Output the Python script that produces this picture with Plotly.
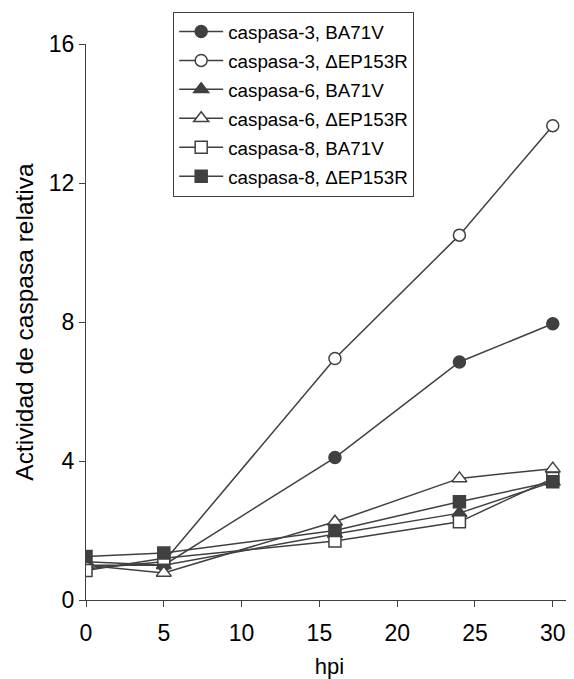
import plotly.graph_objects as go

hpi = [0, 5, 16, 24, 30]

names = ["caspasa-3, BA71V", "caspasa-3, \u0394EP153R",
         "caspasa-6, BA71V", "caspasa-6, \u0394EP153R",
         "caspasa-8, BA71V", "caspasa-8, \u0394EP153R"]

c3_ba71v = [1.0, 1.0, 4.1, 6.85, 7.95]
c3_dep153r = [0.9, 1.1, 6.95, 10.5, 13.65]
c6_ba71v = [1.1, 1.0, 1.9, 2.5, 3.4]
c6_dep153r = [1.0, 0.78, 2.25, 3.5, 3.78]
c8_ba71v = [0.85, 1.2, 1.7, 2.25, 3.5]
c8_dep153r = [1.25, 1.35, 2.0, 2.83, 3.4]

series = [c3_ba71v, c3_dep153r, c6_ba71v, c6_dep153r, c8_ba71v, c8_dep153r]
symbols = ["circle", "circle-open", "triangle-up", "triangle-up-open", "square-open", "square"]
sizes = [12, 12, 13, 13, 12, 12]

dark = "#404040"
fig = go.Figure()
for i, (nm, ys, sym, sz) in enumerate(zip(names, series, symbols, sizes)):
    is_open = sym.endswith("-open")
    base = sym.replace("-open", "")
    fig.add_trace(go.Scatter(
        x=hpi, y=ys, name=nm, mode="lines+markers",
        legendgroup=f"g{i}",
        line=dict(color=dark, width=1.5),
        marker=dict(symbol=base, size=sz,
                    color="white" if is_open else dark,
                    line=dict(color=dark, width=1.5)),
    ))

# page body has an 8px default margin, so the figure is sized to fit the window
fig.update_layout(
    width=566, height=671,
    margin=dict(l=78, r=1, t=36, b=79),
    plot_bgcolor="white", paper_bgcolor="white",
    font=dict(family="Liberation Sans, Arial, sans-serif", size=23, color="black"),
    showlegend=True,
    legend=dict(
        x=0.179, y=1.058, xanchor="left", yanchor="top",
        bgcolor="white", bordercolor=dark, borderwidth=1,
        font=dict(size=18.8), itemwidth=44, tracegroupgap=1.5,
        traceorder="grouped",
    ),
    xaxis=dict(
        range=[0, 31.3], tickvals=[0, 5, 10, 15, 20, 25, 30],
        showline=True, linecolor=dark, linewidth=1.2,
        ticks="outside", ticklen=6, tickcolor=dark,
        showgrid=False, zeroline=False, automargin=False,
        tickfont=dict(size=23), ticklabelstandoff=6,
        title=dict(text="hpi", font=dict(size=22), standoff=17),
    ),
    yaxis=dict(
        range=[0, 16], tickvals=[0, 4, 8, 12, 16],
        showline=True, linecolor=dark, linewidth=1.2,
        ticks="outside", ticklen=6, tickcolor=dark,
        showgrid=False, zeroline=False, automargin=False,
        tickfont=dict(size=23),
        title=dict(text="Actividad de caspasa relativa", font=dict(size=24.5), standoff=8),
    ),
)

fig.write_html("out.html")
